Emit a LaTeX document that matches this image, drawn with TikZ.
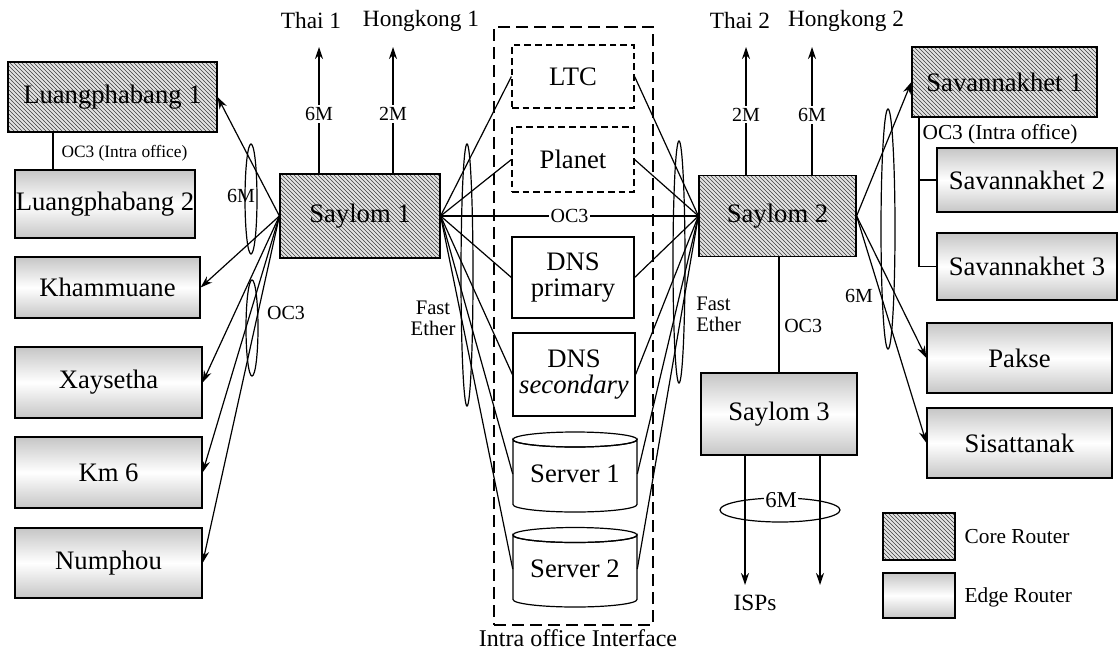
\documentclass[tikz,border=0pt]{standalone}
\usepackage{fontspec}
\setmainfont{Liberation Serif}
\usetikzlibrary{patterns,arrows.meta}
\newcommand{\fsz}[2]{\fontsize{#1}{#2}\selectfont}
\begin{document}
\begin{tikzpicture}[x=0.75pt,y=-0.75pt,
  sz/.style 2 args={minimum width=#1*0.75pt, minimum height=#2*0.75pt, inner sep=0pt},
  ln/.style={line width=0.9pt},
  arr/.style={ln, -{Stealth[length=9pt,width=6pt]}},
  corebox/.style={draw, line width=0.9pt, preaction={fill=gray!22}, pattern=north west lines, pattern color=black!75, font=\fsz{20}{18}},
  edgebox/.style={draw, line width=0.9pt, top color=gray!45, bottom color=gray!45, middle color=white, font=\fsz{20}{18}},
  dashbox/.style={draw, line width=0.9pt, dash pattern=on 5pt off 3pt, fill=white, font=\fsz{20}{18}},
  plainbox/.style={draw, line width=0.9pt, fill=white, font=\fsz{20}{19.5}, align=center},
  bigdash/.style={draw, line width=1.6pt, dash pattern=on 9pt off 4.5pt},
  toplbl/.style={font=\fsz{17.5}{20}, inner sep=1pt},
  rate/.style={font=\fsz{15}{17}, inner sep=1.5pt},
  small/.style={font=\fsz{13}{15}, inner sep=1pt},
  lgd/.style={font=\fsz{16}{18}, inner sep=1pt}
]
\useasboundingbox (0,0) rectangle (1119,653);

% intra office frame
\node[bigdash, sz={159}{598}] (IO) at (573.5,326) {};
\node[font=\fsz{18}{20}, inner sep=1pt] (IOt) at (578,638) {Intra office Interface};

% routers
\node[corebox, sz={209}{70}] (L1) at (112.5,97) {Luangphabang 1};
\node[edgebox, sz={180}{68}] (L2) at (105,204) {Luangphabang 2};
\node[edgebox, sz={185}{61}] (Kh) at (107.5,287.5) {Khammuane};
\node[edgebox, sz={187}{71}] (Xa) at (108.5,382.5) {Xaysetha};
\node[edgebox, sz={187}{71}] (Km) at (108.5,472.5) {Km 6};
\node[edgebox, sz={187}{70}] (Nu) at (108.5,563) {Numphou};
\node[corebox, sz={160}{84}] (S1) at (360,216) {Saylom 1};
\node[corebox, sz={157}{81}] (S2) at (777.5,216) {Saylom 2};
\node[edgebox, sz={156}{82}] (S3) at (779,414) {Saylom 3};
\node[corebox, sz={185}{70}] (V1) at (1004.5,82) {Savannakhet 1};
\node[edgebox, sz={180}{64}] (V2) at (1027,180) {Savannakhet 2};
\node[edgebox, sz={180}{67}] (V3) at (1027,266.5) {Savannakhet 3};
\node[edgebox, sz={185}{70}] (Pk) at (1019.5,358) {Pakse};
\node[edgebox, sz={185}{70}] (Si) at (1019.5,443) {Sisattanak};

% servers inside the frame
\node[dashbox, sz={122}{63}] (LTC) at (573,76.5) {LTC};
\node[dashbox, sz={122}{65}] (PL) at (573,159.5) {Planet};
\node[plainbox, sz={122}{81}] (DP) at (573,277.5) {DNS\\primary};
\node[plainbox, sz={122}{83}] (DS) at (574,374.5) {DNS\\\textit{secondary}};
\draw[ln, fill=white] (513,439.5) -- (513,504.5) arc[start angle=180, end angle=0, x radius=62, y radius=7.5] -- (637,439.5) arc[start angle=0, end angle=180, x radius=62, y radius=7.5] -- cycle;
\draw[ln] (575,439.5) ellipse[x radius=62, y radius=7.5];
\draw[ln, fill=white] (513,535) -- (513,599.5) arc[start angle=180, end angle=0, x radius=62, y radius=7.5] -- (637,535) arc[start angle=0, end angle=180, x radius=62, y radius=7.5] -- cycle;
\draw[ln] (575,535) ellipse[x radius=62, y radius=7.5];
\node[sz={124}{80}, font=\fsz{20}{18}] (SV1) at (575,474) {Server 1};
\node[sz={124}{79}, font=\fsz{20}{18}] (SV2) at (575,569) {Server 2};

% left edge links
\foreach \t in {L1,Kh,Xa,Km,Nu} \draw[arr] (S1.west) -- (\t.east);
\coordinate (vl) at (53,0);
\draw[ln] (vl |- L1.south) -- (vl |- L2.north);
\node[small, anchor=west] (oc3l) at (60,153) {OC3 (Intra office)};
\draw[ln] (251,199) ellipse[x radius=6, y radius=55];
\draw[ln] (252,328) ellipse[x radius=6, y radius=48];
\node[rate] (m6l) at (241,196) {6M};
\node[rate] (oc3a) at (286,313) {OC3};

% links to intra office servers
\foreach \t in {LTC,PL,DP,DS,SV1,SV2} {
  \draw[ln] (S1.east) -- (\t.west);
  \draw[ln] (S2.west) -- (\t.east);
}
\draw[ln] (S1.east) -- node[rate, fill=white, pos=0.5] (oc3m) {OC3} (S2.west);
\draw[ln] (467,275) ellipse[x radius=6, y radius=131];
\draw[ln] (679,262) ellipse[x radius=6, y radius=121];
\node[font=\fsz{15.5}{16}, align=center, inner sep=0pt] (fe1) at (433,318) {Fast\\Ether};
\node[font=\fsz{15.5}{16}, align=left, inner sep=0pt, anchor=west] (fe2) at (696,314) {Fast\\Ether};

% upstream links
\coordinate (t1) at (319,47);
\coordinate (t2) at (393,47);
\coordinate (t3) at (746,47);
\coordinate (t4) at (812,47);
\draw[arr] (t1 |- S1.north) -- node[rate, fill=white, pos=0.47] (r1) {6M} (t1);
\draw[arr] (t2 |- S1.north) -- node[rate, fill=white, pos=0.47] (r2) {2M} (t2);
\draw[arr] (t3 |- S2.north) -- node[rate, fill=white, pos=0.47] (r3) {2M} (t3);
\draw[arr] (t4 |- S2.north) -- node[rate, fill=white, pos=0.47] (r4) {6M} (t4);
\node[toplbl] (th1) at (311,21) {Thai 1};
\node[toplbl] (hk1) at (421,21) {Hongkong 1};
\node[toplbl] (th2) at (740,21) {Thai 2};
\node[toplbl] (hk2) at (846,21) {Hongkong 2};

% Saylom 2 -> Saylom 3 and ISPs
\draw[ln] (S3.north |- S2.south) -- (S3.north);
\node[rate, anchor=west] (oc3b) at (782,326) {OC3};
\coordinate (i1) at (745,585);
\coordinate (i2) at (820,585);
\draw[arr] (i1 |- S3.south) -- (i1);
\draw[arr] (i2 |- S3.south) -- (i2);
\draw[ln] (780,510) ellipse[x radius=60, y radius=12];
\node[rate, fill=white, inner sep=1pt, font=\fsz{17}{19}] (m6b) at (781,500) {6M};
\node[toplbl] (isp) at (755,603) {ISPs};

% right edge links
\foreach \t in {V1,Pk,Si} \draw[arr] (S2.east) -- (\t.west);
\draw[ln] (888,229) ellipse[x radius=7, y radius=120];
\node[rate] (m6r) at (859,296) {6M};
\coordinate (vr) at (919,0);
\draw[ln] (vr |- V1.south) |- (V3.west);
\draw[ln] (vr |- V2.west) -- (V2.west);
\node[font=\fsz{16}{18}, inner sep=1pt, anchor=west] (oc3r) at (921,134) {OC3 (Intra office)};

% legend
\node[corebox, sz={72}{47}] (lc) at (919,536.5) {};
\node[edgebox, sz={72}{45}] (le) at (919,595.5) {};
\node[lgd, anchor=west] (lct) at (963,537) {Core Router};
\node[lgd, anchor=west] (let) at (963,597) {Edge Router};
\end{tikzpicture}
\end{document}
